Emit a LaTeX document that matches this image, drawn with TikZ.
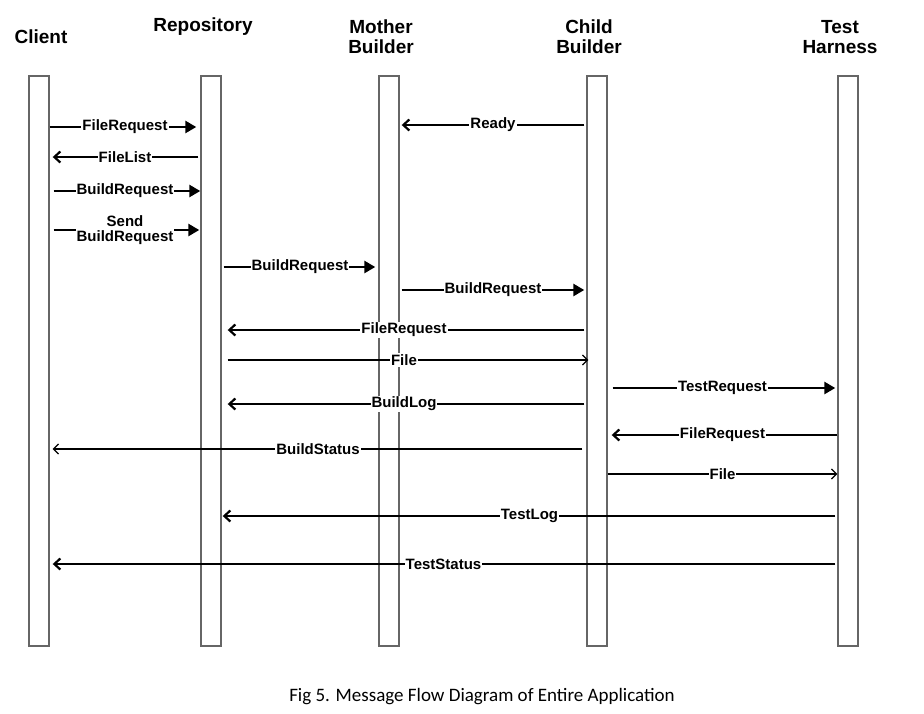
\documentclass[tikz,border=0pt]{standalone}
\usepackage{fontspec}
\setmainfont{Liberation Sans}
\newfontfamily\capfont{Carlito}
\usetikzlibrary{arrows.meta,positioning}

\begin{document}
\begin{tikzpicture}[x=1pt,y=-1pt,
    lifeline/.style={draw=black!60,fill=white,line width=1.4pt,minimum width=20pt,minimum height=570pt,inner sep=0pt},
    head/.style={font=\fontsize{19}{20}\selectfont\bfseries,align=center},
    lbl/.style={font=\fontsize{15}{15.5}\selectfont\bfseries,fill=white,inner sep=1pt,align=center},
    big/.style={draw,line width=2.6pt,-{Triangle[length=11pt,width=12pt]}},
    back/.style={draw,line width=2.2pt,-{Straight Barb[length=6pt,width=11pt]}},
    thin/.style={draw,line width=1.2pt,-{Straight Barb[length=5pt,width=10pt]}},
]
\useasboundingbox (0,0) rectangle (924,713);
        % lifelines
        \node[lifeline] (client) at (39,361) {};
        \node[lifeline] (repo) at (211,361) {};
        \node[lifeline] (mother) at (389,361) {};
        \node[lifeline] (child) at (597,361) {};
        \node[lifeline] (harness) at (848,361) {};
        \node[head] (hclient) at (41,37) {Client};
        \node[head] (hrepo) at (203,27) {Repository};
        \node[head] (hmother) at (381,37) {Mother\\Builder};
        \node[head] (hchild) at (589,37) {Child\\Builder};
        \node[head] (hharness) at (840,37) {Test\\Harness};
        % client <-> repository
            \path[big,shorten >=4pt] (client.east |- 0,127) -- node[lbl,midway]{FileRequest} (repo.west |- 0,127);
            \path[back,shorten <=2pt,shorten >=3pt] (repo.west |- 0,157) -- node[lbl,midway]{FileList} (client.east |- 0,157);
            \path[big,shorten <=4pt] (client.east |- 0,191) -- node[lbl,midway]{BuildRequest} (repo.west |- 0,191);
            \path[big,shorten <=4pt,shorten >=1pt] (client.east |- 0,230) -- node[lbl,midway]{Send\\BuildRequest} (repo.west |- 0,230);
        % builders
            \path[big,shorten <=2pt,shorten >=3pt] (repo.east |- 0,267) -- node[lbl,midway]{BuildRequest} (mother.west |- 0,267);
            \path[back,shorten <=2pt,shorten >=2pt] (child.west |- 0,125) -- node[lbl,midway]{Ready} (mother.east |- 0,125);
            \path[big,shorten <=2pt,shorten >=2pt] (mother.east |- 0,290) -- node[lbl,midway]{BuildRequest} (child.west |- 0,290);
            \path[back,shorten <=2pt,shorten >=6pt] (child.west |- 0,330) -- node[lbl,midway]{FileRequest} (repo.east |- 0,330);
            \path[thin,shorten <=6pt,shorten >=-2pt] (repo.east |- 0,360) -- node[lbl,midway]{File} (child.west |- 0,360);
            \path[back,shorten <=2pt,shorten >=6pt] (child.west |- 0,404) -- node[lbl,midway]{BuildLog} (repo.east |- 0,404);
            \path[thin,shorten <=4pt,shorten >=3pt] (child.west |- 0,449) -- node[lbl,midway]{BuildStatus} (client.east |- 0,449);
        % child builder <-> test harness
            \path[big,shorten <=5pt,shorten >=2pt] (child.east |- 0,388) -- node[lbl,midway]{TestRequest} (harness.west |- 0,388);
            \path[back,shorten >=4pt] (harness.west |- 0,435) -- node[lbl,midway]{FileRequest} (child.east |- 0,435);
            \path[thin,shorten >=0pt] (child.east |- 0,474) -- node[lbl,midway]{File} (harness.west |- 0,474);
            \path[back,shorten <=2pt,shorten >=1pt] (harness.west |- 0,516) -- node[lbl,midway]{TestLog} (repo.east |- 0,516);
            \path[back,shorten <=2pt,shorten >=3pt] (harness.west |- 0,564) -- node[lbl,midway]{TestStatus} (client.east |- 0,564);
        \node[font=\capfont\fontsize{19}{20}\selectfont] (caption) at (482,697) {Fig 5. Message Flow Diagram of Entire Application};
\end{tikzpicture}
\end{document}
